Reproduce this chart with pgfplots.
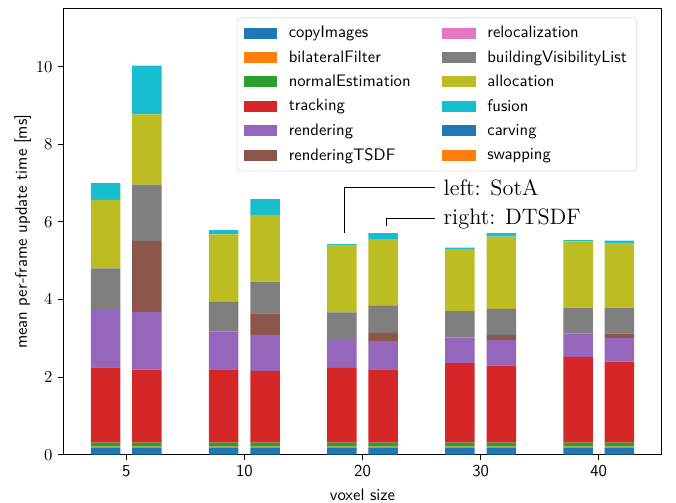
\documentclass[border=0pt]{standalone}
\usepackage{pgfplots}
\pgfplotsset{compat=1.18}
\definecolor{c0}{HTML}{1F77B4}
\definecolor{c1}{HTML}{FF7F0E}
\definecolor{c2}{HTML}{2CA02C}
\definecolor{c3}{HTML}{D62728}
\definecolor{c4}{HTML}{9467BD}
\definecolor{c5}{HTML}{8C564B}
\definecolor{c6}{HTML}{E377C2}
\definecolor{c7}{HTML}{7F7F7F}
\definecolor{c8}{HTML}{BCBD22}
\definecolor{c9}{HTML}{17BECF}
\pgfplotsset{sqpatch/.style={legend image code/.code={\fill[##1,draw=none,sharp corners] (0pt,-3.3pt) rectangle (20pt,3.3pt);}}}
\begin{document}
\begin{tikzpicture}
\begin{axis}[
  name=ax,
  scale only axis, width=359pt, height=267.4pt,
  ybar stacked, bar width=0.25,
  xmin=-0.533, xmax=4.533, ymin=0, ymax=11.49,
  xtick={0,1,2,3,4}, xticklabels={5,10,20,30,40},
  ytick={0,2,4,6,8,10},
  tick align=outside, tick pos=left, major tick length=3pt,
  every tick/.style={black, line width=0.6pt},
  axis line style={line width=0.6pt},
  xticklabel style={font=\sffamily},
  xlabel={voxel size}, ylabel={mean per-frame update time [ms]},
  label style={font=\sffamily},
  ylabel style={yshift=-4pt},
  legend columns=6, transpose legend,
  legend cell align=left,
  legend style={at={(0.959,0.981)}, anchor=north east, draw=black!15, rounded corners=2pt,
    fill=white, font=\sffamily,
    row sep=2.2pt, column sep=5pt, inner xsep=4pt, inner ysep=3pt,
    /tikz/every even column/.append style={column sep=17pt}},
]
% order: L5 R5 L10 R10 L20 R20 L30 R30 L40 R40
\addplot[fill=c0, draw=none, sqpatch] coordinates {(-0.175,0.17) (0.175,0.17) (0.825,0.17) (1.175,0.17) (1.825,0.17) (2.175,0.17) (2.825,0.17) (3.175,0.17) (3.825,0.17) (4.175,0.17)};
\addlegendentry{copyImages}
\addplot[fill=c1, draw=none, sqpatch] coordinates {(-0.175,0.04) (0.175,0.04) (0.825,0.04) (1.175,0.04) (1.825,0.04) (2.175,0.04) (2.825,0.04) (3.175,0.04) (3.825,0.04) (4.175,0.04)};
\addlegendentry{bilateralFilter}
\addplot[fill=c2, draw=none, sqpatch] coordinates {(-0.175,0.10) (0.175,0.10) (0.825,0.10) (1.175,0.10) (1.825,0.10) (2.175,0.10) (2.825,0.10) (3.175,0.10) (3.825,0.10) (4.175,0.10)};
\addlegendentry{normalEstimation}
\addplot[fill=c3, draw=none, sqpatch] coordinates {(-0.175,1.94) (0.175,1.88) (0.825,1.89) (1.175,1.85) (1.825,1.93) (2.175,1.89) (2.825,2.05) (3.175,1.99) (3.825,2.21) (4.175,2.09)};
\addlegendentry{tracking}
\addplot[fill=c4, draw=none, sqpatch] coordinates {(-0.175,1.51) (0.175,1.49) (0.825,0.97) (1.175,0.93) (1.825,0.74) (2.175,0.73) (2.825,0.66) (3.175,0.65) (3.825,0.61) (4.175,0.61)};
\addlegendentry{rendering}
\addplot[fill=c5, draw=none, sqpatch] coordinates {(-0.175,0) (0.175,1.83) (0.825,0) (1.175,0.55) (1.825,0) (2.175,0.21) (2.825,0) (3.175,0.14) (3.825,0) (4.175,0.12)};
\addlegendentry{renderingTSDF}
\addplot[fill=c6, draw=none, sqpatch] coordinates {(-0.175,0) (0.175,0) (0.825,0) (1.175,0) (1.825,0) (2.175,0) (2.825,0) (3.175,0) (3.825,0) (4.175,0)};
\addlegendentry{relocalization}
\addplot[fill=c7, draw=none, sqpatch] coordinates {(-0.175,1.04) (0.175,1.45) (0.825,0.77) (1.175,0.82) (1.825,0.69) (2.175,0.71) (2.825,0.68) (3.175,0.67) (3.825,0.66) (4.175,0.66)};
\addlegendentry{buildingVisibilityList}
\addplot[fill=c8, draw=none, sqpatch] coordinates {(-0.175,1.77) (0.175,1.81) (0.825,1.74) (1.175,1.72) (1.825,1.72) (2.175,1.71) (2.825,1.60) (3.175,1.86) (3.825,1.71) (4.175,1.65)};
\addlegendentry{allocation}
\addplot[fill=c9, draw=none, sqpatch] coordinates {(-0.175,0.43) (0.175,1.26) (0.825,0.11) (1.175,0.41) (1.825,0.04) (2.175,0.15) (2.825,0.04) (3.175,0.09) (3.825,0.03) (4.175,0.08)};
\addlegendentry{fusion}
\addplot[fill=c0, draw=none, sqpatch] coordinates {(-0.175,0) (0.175,0) (0.825,0) (1.175,0) (1.825,0) (2.175,0) (2.825,0) (3.175,0) (3.825,0) (4.175,0)};
\addlegendentry{carving}
\addplot[fill=c1, draw=none, sqpatch] coordinates {(-0.175,0) (0.175,0) (0.825,0) (1.175,0) (1.825,0) (2.175,0) (2.825,0) (3.175,0) (3.825,0) (4.175,0)};
\addlegendentry{swapping}
\draw[line width=0.6pt] (axis cs:1.847,5.72) -- (axis cs:1.847,6.88) -- (axis cs:2.615,6.88);
\draw[line width=0.6pt] (axis cs:2.2,5.89) -- (axis cs:2.2,6.09) -- (axis cs:2.615,6.09);
\node[anchor=west, inner sep=0pt, font=\fontsize{13.4}{16}\selectfont] at (axis cs:2.685,6.88) {left: SotA};
\node[anchor=west, inner sep=0pt, font=\fontsize{13.4}{16}\selectfont] at (axis cs:2.685,6.09) {right: DTSDF};
\end{axis}
\pgfresetboundingbox
\path ([xshift=-38pt,yshift=-29pt]ax.south west) rectangle ([xshift=8.6pt,yshift=5.4pt]ax.north east);
\end{tikzpicture}
\end{document}
